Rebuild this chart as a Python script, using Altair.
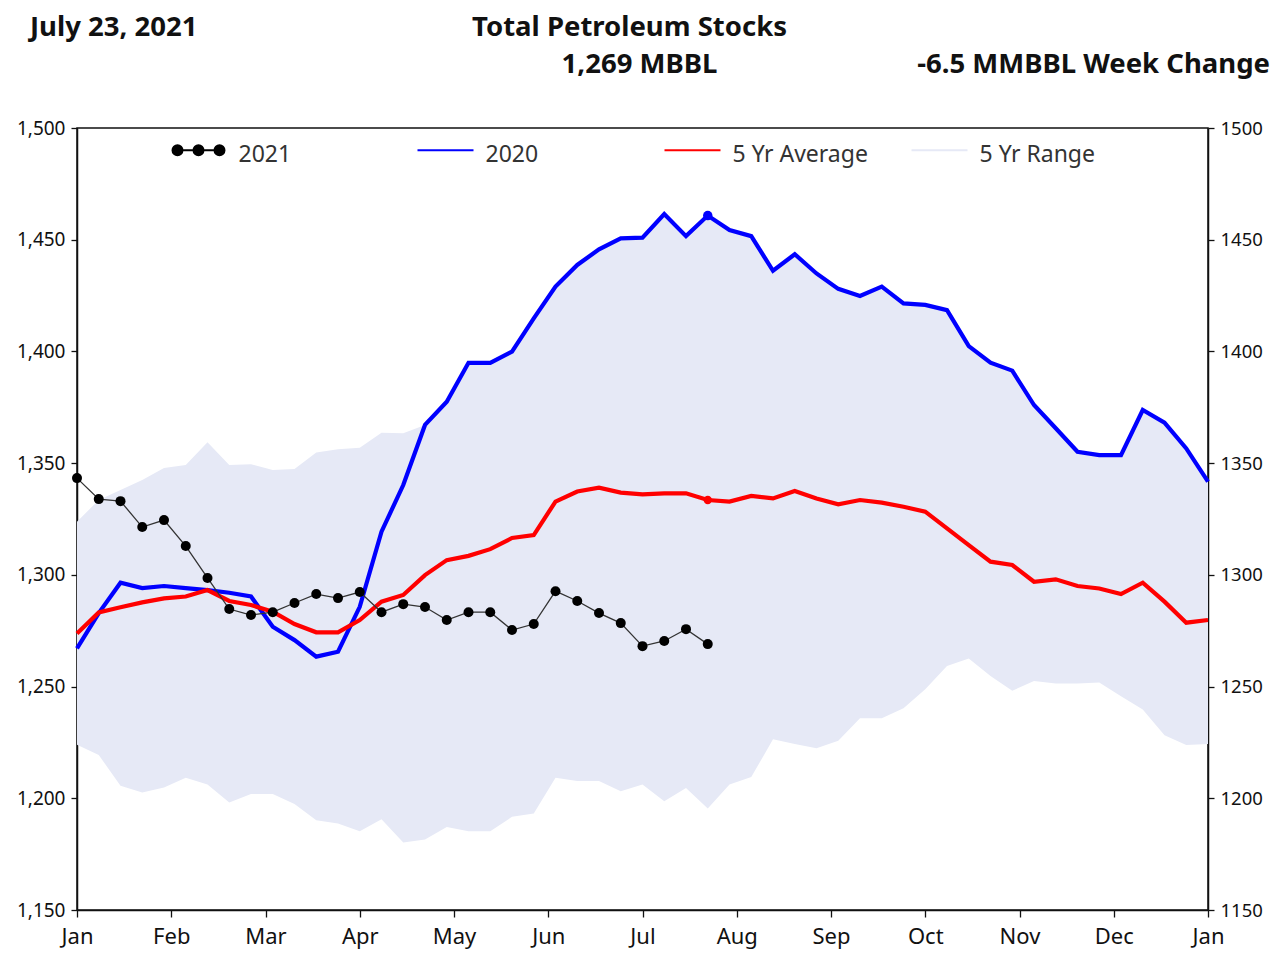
import altair as alt
import pandas as pd

# ---------------- data ----------------
weeks = list(range(53))

v2020 = [1267.1, 1282.9, 1296.5, 1294.1, 1295.0, 1294.1, 1293.2, 1292.0, 1290.3, 1276.8,
         1270.8, 1263.4, 1265.6, 1285.7, 1319.3, 1340.2, 1367.1, 1377.5, 1394.9, 1394.9,
         1399.9, 1414.8, 1429.0, 1438.7, 1445.7, 1450.6, 1450.9, 1461.5, 1451.6, 1460.8,
         1454.3, 1451.6, 1436.1, 1443.5, 1434.9, 1428.0, 1424.8, 1429.0, 1421.5, 1420.8,
         1418.5, 1402.4, 1395.0, 1391.4, 1376.0, 1365.6, 1355.1, 1353.6, 1353.6, 1373.8,
         1368.1, 1356.6, 1341.7]

avg5 = [1273.8, 1283.2, 1285.5, 1287.7, 1289.5, 1290.3, 1293.2, 1288.3, 1286.5, 1283.5,
        1278.0, 1274.3, 1274.3, 1279.8, 1288.0, 1291.0, 1299.9, 1306.6, 1308.5, 1311.5,
        1316.5, 1317.8, 1332.8, 1337.3, 1339.0, 1336.8, 1336.0, 1336.5, 1336.5, 1333.5,
        1332.8, 1335.3, 1334.2, 1337.5, 1334.2, 1331.6, 1333.5, 1332.3, 1330.5, 1328.3,
        1320.8, 1313.3, 1305.9, 1304.4, 1296.9, 1298.0, 1295.0, 1293.9, 1291.4, 1296.5,
        1288.0, 1278.6, 1279.8]

range_lo = [1224.0, 1219.4, 1205.6, 1202.6, 1204.8, 1209.2, 1206.2, 1198.1, 1201.9, 1201.9,
            1197.4, 1190.2, 1188.7, 1185.3, 1190.6, 1180.2, 1181.6, 1187.2, 1185.3, 1185.3,
            1191.7, 1193.2, 1209.2, 1207.7, 1207.7, 1203.2, 1206.2, 1198.7, 1204.6, 1195.4,
            1206.2, 1209.5, 1226.4, 1224.3, 1222.4, 1225.8, 1235.8, 1235.8, 1240.3, 1248.8,
            1259.2, 1262.6, 1254.7, 1248.1, 1252.5, 1251.4, 1251.4, 1251.8, 1245.7, 1239.7,
            1228.2, 1223.8, 1224.3]

# upper edge of the 5-year range before 2020 takes over as the maximum
range_hi_early = [1323.8, 1333.5, 1338.0, 1342.4, 1347.8, 1349.2, 1359.3, 1349.2, 1349.5, 1346.9,
                  1347.4, 1354.8, 1356.2, 1356.9, 1363.6, 1363.4]
range_hi = range_hi_early + v2020[len(range_hi_early):]

v2021 = [1343.3, 1333.9, 1333.0, 1321.4, 1324.5, 1312.9, 1298.6, 1284.7, 1282.0, 1283.3,
         1287.4, 1291.4, 1289.6, 1292.3, 1283.3, 1286.9, 1285.6, 1279.8, 1283.3, 1283.3,
         1275.3, 1278.0, 1292.7, 1288.3, 1282.9, 1278.4, 1268.1, 1270.4, 1275.7, 1269.0]

current_week = 29

month_labels = ["Jan", "Feb", "Mar", "Apr", "May", "Jun", "Jul", "Aug", "Sep", "Oct", "Nov", "Dec", "Jan"]
y_ticks = [1150, 1200, 1250, 1300, 1350, 1400, 1450, 1500]

series_names = ["2021", "2020", "5 Yr Average", "5 Yr Range"]
series_colors = ["#000000", "#0000ff", "#ff0000", "#e6e9f6"]

title_date = "July 23, 2021"
title_main = "Total Petroleum Stocks"
title_total = "1,269 MBBL"
title_change = "-6.5 MMBBL Week Change"

# ---------------- tables ----------------
df_year = pd.DataFrame({"week": weeks, "v2020": v2020, "avg5": avg5, "lo": range_lo, "hi": range_hi})
df_2021 = pd.DataFrame({"week": list(range(len(v2021))), "value": v2021})
df_cur = df_year[df_year["week"] == current_week]
df_leg = pd.DataFrame({"series": series_names})

FONT = "Noto Sans"
W, H = 1131, 782
n_weeks = 52
month_ticks = [k * n_weeks / 12 for k in range(13)]
label_js = "[" + ",".join("'%s'" % m for m in month_labels) + "]"

xscale = alt.Scale(domain=[0, n_weeks], nice=False, zero=False)
yscale = alt.Scale(domain=[1150, 1500], nice=False, zero=False)

xaxis = alt.Axis(values=month_ticks, labelExpr=label_js + "[round(datum.value*12/%d)]" % n_weeks,
                 title=None, grid=False, tickSize=7, labelFontSize=22, labelPadding=9,
                 labelColor="#111", tickColor="#111", domainColor="#111", labelFont=FONT,
                 labelFlush=False)

X = alt.X("week:Q", scale=xscale, axis=xaxis)

band = alt.Chart(df_year).mark_area(color="#e6e9f6", opacity=1).encode(
    x=X,
    y=alt.Y("hi:Q", scale=yscale,
            axis=alt.Axis(orient="left", values=y_ticks, format=",d", title=None, grid=False,
                          tickSize=6, labelFontSize=19, labelPadding=6, labelColor="#111",
                          tickColor="#111", domainColor="#111", labelFont=FONT)),
    y2="lo:Q",
)

blue = alt.Chart(df_year).mark_line(color="#0000ff", strokeWidth=4.2).encode(
    x=X,
    y=alt.Y("v2020:Q", scale=yscale,
            axis=alt.Axis(orient="right", values=y_ticks, format="d", title=None, grid=False,
                          tickSize=6, labelFontSize=18.5, labelPadding=6, labelColor="#111",
                          tickColor="#111", domainColor="#111", labelFont=FONT)),
)

red = alt.Chart(df_year).mark_line(color="#ff0000", strokeWidth=4.2).encode(
    x=X, y=alt.Y("avg5:Q", scale=yscale, axis=None))

cur_blue = alt.Chart(df_cur).mark_point(filled=True, color="#0000ff", size=90, opacity=1).encode(
    x=X, y=alt.Y("v2020:Q", scale=yscale, axis=None))
cur_red = alt.Chart(df_cur).mark_point(filled=True, color="#ff0000", size=70, opacity=1).encode(
    x=X, y=alt.Y("avg5:Q", scale=yscale, axis=None))

line21 = alt.Chart(df_2021).mark_line(color="#333333", strokeWidth=1.3).encode(
    x=X, y=alt.Y("value:Q", scale=yscale, axis=None))
pts21 = alt.Chart(df_2021).mark_point(filled=True, color="#000000", size=100, opacity=1).encode(
    x=X, y=alt.Y("value:Q", scale=yscale, axis=None))

# legend symbols (drawn slightly above the label's middle, as in the reference)
line_path = "M-2.8,-0.45H2.8"
dots_path = ("M-2.6,-0.45H2.6"
             "M-2.6,-0.45a0.5,0.5 0 1,0 1,0a0.5,0.5 0 1,0 -1,0Z"
             "M-0.5,-0.45a0.5,0.5 0 1,0 1,0a0.5,0.5 0 1,0 -1,0Z"
             "M1.6,-0.45a0.5,0.5 0 1,0 1,0a0.5,0.5 0 1,0 -1,0Z")
leg_kw = dict(orient="none", legendX=110, legendY=15, direction="horizontal", title=None,
              gridAlign="all", columnPadding=39, symbolSize=400, symbolStrokeWidth=2,
              symbolOpacity=1, labelFontSize=23, labelFont=FONT, labelColor="#333",
              labelOffset=28.5)
legend_layer = alt.Chart(df_leg).mark_point(filled=True, opacity=0, size=400).encode(
    fill=alt.Fill("series:N", scale=alt.Scale(domain=series_names, range=series_colors),
                  legend=alt.Legend(**leg_kw)),
    stroke=alt.Stroke("series:N", scale=alt.Scale(domain=series_names, range=series_colors),
                      legend=alt.Legend(**leg_kw)),
    shape=alt.Shape("series:N", scale=alt.Scale(domain=series_names,
                                                range=[dots_path, line_path, line_path, line_path]),
                    legend=alt.Legend(**leg_kw)),
)

def txt(s, x, y, align):
    return alt.Chart(pd.DataFrame({"t": [s]})).mark_text(
        font=FONT, fontSize=27.5, fontWeight="bold", color="#111", align=align, baseline="alphabetic"
    ).encode(text="t:N", x=alt.value(x), y=alt.value(y))

titles = [
    txt(title_date, -47, -92, "left"),
    txt(title_main, 552.5, -92, "center"),
    txt(title_total, 562.5, -55, "center"),
    txt(title_change, 1193, -55, "right"),
]

chart = alt.layer(band, blue, red, line21, pts21, cur_blue, cur_red, legend_layer, *titles).resolve_axis(
    y="independent"
).properties(
    width=W, height=H, autosize=alt.AutoSizeParams(type="none"),
    padding={"left": 69, "top": 120, "right": 72, "bottom": 41},
).configure_view(stroke="#111", strokeWidth=1.5).configure_axis(domainWidth=1.5, tickWidth=1.3)

chart.save("out.html", embed_options={"renderer": "svg", "actions": False})
